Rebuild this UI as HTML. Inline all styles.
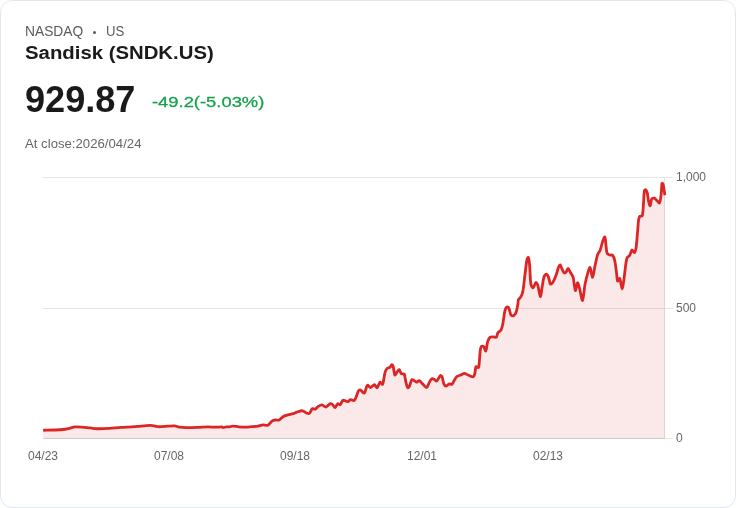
<!DOCTYPE html>
<html><head><meta charset="utf-8"><title>Sandisk (SNDK.US)</title>
<style>
html,body{margin:0;padding:0;background:#fff;}
body{width:736px;height:508px;overflow:hidden;font-family:"Liberation Sans",sans-serif;}
.card{position:absolute;left:0;top:0;width:734px;height:506px;border:1px solid #e2e8f0;border-radius:12px;background:#fff;}
.t{position:absolute;white-space:nowrap;line-height:1;}
.ex{left:25px;top:24px;font-size:14.4px;color:#5a5a5a;transform-origin:0 0;transform:scaleX(0.958);}
.us{left:105.5px;top:24px;font-size:14.4px;color:#5a5a5a;transform-origin:0 0;transform:scaleX(0.915);}
.dot{left:93.1px;top:30.8px;width:3.2px;height:3.2px;border-radius:50%;background:#5a5a5a;}
.name{left:25px;top:44px;font-size:18px;font-weight:bold;color:#1a1a1a;transform-origin:0 0;transform:scaleX(1.13);}
.price{left:25px;top:82.3px;font-size:36px;font-weight:bold;color:#1a1a1a;transform-origin:0 0;transform:scaleX(1.003);}
.chg{left:151.6px;top:93.5px;font-size:15.5px;color:#16a34a;-webkit-text-stroke:0.3px #16a34a;transform-origin:0 0;transform:scaleX(1.185);}
.close{left:25px;top:138px;font-size:12px;color:#666;transform-origin:0 0;transform:scaleX(1.098);}
svg{position:absolute;left:0;top:0;}
svg text{font-family:"Liberation Sans",sans-serif;font-size:12px;fill:#666;}
</style></head>
<body>
<div id="w" style="position:absolute;left:0;top:0;width:736px;height:508px;will-change:transform;">
<div class="card"></div>
<div class="t ex">NASDAQ</div><div class="t dot"></div><div class="t us">US</div>
<div class="t name">Sandisk (SNDK.US)</div>
<div class="t price">929.87</div>
<div class="t chg">-49.2(-5.03%)</div>
<div class="t close">At close:2026/04/24</div>
<svg width="736" height="508" viewBox="0 0 736 508">
<defs><clipPath id="c"><rect x="41.75" y="170" width="624.5" height="270"/></clipPath></defs>
<g stroke="#e5e5e5" stroke-width="1" shape-rendering="crispEdges">
<line x1="43" y1="177.5" x2="672.5" y2="177.5"/>
<line x1="43" y1="308.5" x2="672.5" y2="308.5"/>
<line x1="664.5" y1="177" x2="664.5" y2="439"/>
<line x1="665" y1="438.5" x2="672.5" y2="438.5"/>
</g>
<g clip-path="url(#c)">
<path d="M43.15,430.25C46.74,430.17 51.53,430.15 55.12,429.99C58.15,429.85 62.19,429.59 65.20,429.24C66.73,429.06 68.75,428.59 70.25,428.23C71.59,427.91 73.31,427.10 74.66,426.97C76.71,426.77 79.52,426.97 81.59,427.10C84.24,427.27 87.77,427.69 90.41,427.98C92.30,428.18 94.81,428.69 96.71,428.73C100.48,428.81 105.54,428.58 109.31,428.36C112.72,428.16 117.25,427.58 120.66,427.35C124.06,427.12 128.60,427.02 132.00,426.84C133.67,426.75 135.89,426.62 137.56,426.47C140.21,426.24 143.73,425.74 146.38,425.58C148.26,425.47 150.81,425.40 152.68,425.58C154.40,425.74 156.64,426.65 158.36,426.72C161.18,426.84 164.98,426.36 167.81,426.21C169.89,426.10 172.69,425.67 174.74,425.83C176.09,425.94 177.80,426.90 179.15,427.10C181.39,427.43 184.44,427.57 186.71,427.60C190.11,427.64 194.65,427.47 198.05,427.35C201.08,427.24 205.11,426.86 208.13,426.84C210.40,426.82 213.43,427.20 215.70,427.22C217.59,427.24 220.15,426.89 222.00,426.97C222.38,426.99 222.78,427.56 223.15,427.56C224.07,427.55 225.35,427.03 226.30,426.93C227.24,426.84 228.52,427.06 229.45,426.93C230.41,426.79 231.64,426.05 232.60,426.04C234.47,426.01 237.00,426.65 238.90,426.80C240.78,426.95 243.31,427.07 245.20,427.05C247.09,427.03 249.62,426.80 251.51,426.67C253.40,426.54 255.94,426.46 257.81,426.17C259.34,425.93 261.32,425.04 262.85,424.91C264.34,424.78 266.62,425.83 267.89,425.29C269.46,424.62 270.81,421.92 272.30,420.88C273.08,420.33 274.49,420.11 275.45,419.99C276.56,419.85 278.25,420.41 279.23,419.99C280.52,419.43 281.73,417.45 283.01,416.72C284.38,415.94 286.52,415.41 288.05,414.95C289.54,414.50 291.61,414.18 293.09,413.69C294.26,413.31 295.69,412.41 296.87,412.05C298.53,411.54 300.93,410.59 302.55,410.79C303.96,410.97 305.57,412.80 306.96,413.31C307.65,413.56 308.98,413.75 309.48,413.31C310.49,412.43 311.17,410.13 312.00,408.90C312.10,408.74 312.41,408.66 312.60,408.68C313.35,408.75 314.47,409.44 315.12,409.18C316.17,408.76 317.21,407.06 318.27,406.41C319.29,405.78 320.95,404.81 322.05,404.90C323.22,405.00 324.75,407.21 325.83,407.04C327.21,406.83 328.85,404.17 330.25,403.64C330.86,403.41 331.97,404.07 332.51,404.52C333.41,405.28 334.31,407.79 335.03,407.67C335.90,407.53 336.82,404.18 337.81,403.64C338.33,403.35 339.58,405.22 340.08,404.90C341.10,404.24 341.78,401.20 342.85,400.36C343.36,399.96 344.63,400.56 345.37,400.74C346.14,400.93 347.20,401.76 347.89,401.62C348.71,401.46 349.55,399.89 350.41,399.73C351.52,399.52 353.76,401.12 354.44,400.36C356.21,398.40 357.07,393.27 358.60,390.66C358.89,390.17 360.00,389.81 360.49,390.03C361.70,390.57 363.51,393.71 364.27,393.18C365.59,392.27 366.12,386.41 367.42,385.24C368.01,384.71 369.63,387.58 370.57,387.51C371.71,387.43 373.30,384.69 374.35,384.73C375.27,384.77 376.45,388.06 377.13,387.76C378.16,387.30 378.97,382.88 380.03,382.21C380.59,381.86 382.23,384.99 382.55,384.36C383.74,382.04 384.09,375.89 385.07,372.38C385.41,371.17 386.13,369.47 386.96,368.60C387.64,367.88 389.32,367.73 390.11,367.09C390.81,366.52 391.40,364.68 391.93,364.57C392.32,364.49 393.01,365.82 393.19,366.47C393.88,368.96 394.03,373.83 394.83,375.03C395.16,375.53 396.30,372.99 396.97,372.14C397.59,371.36 398.57,369.42 399.11,369.62C399.89,369.91 400.43,372.94 401.38,373.77C401.94,374.26 403.81,373.41 404.16,374.03C405.13,375.75 405.21,379.35 405.79,381.59C406.27,383.43 406.87,386.69 407.68,387.64C408.00,388.01 409.24,386.65 409.57,386.00C410.45,384.27 410.81,381.12 411.72,379.70C411.95,379.34 412.92,379.85 413.36,380.08C414.36,380.60 415.55,382.14 416.51,382.22C417.32,382.29 418.54,380.36 419.28,380.58C420.43,380.92 421.73,383.07 422.81,384.11C423.93,385.19 425.67,387.82 426.59,387.64C427.56,387.45 428.30,384.26 429.11,382.85C429.82,381.61 430.65,379.51 431.63,378.82C432.16,378.45 433.45,379.02 434.15,379.32C434.97,379.67 436.08,381.31 436.67,380.96C437.97,380.18 439.21,376.58 440.45,375.54C440.79,375.25 441.76,376.07 441.96,376.55C442.82,378.64 443.07,382.03 443.98,384.11C444.31,384.87 445.44,386.03 446.12,386.00C447.03,385.96 448.25,384.15 449.27,383.86C449.96,383.66 451.26,384.73 451.79,384.36C452.77,383.67 453.54,381.53 454.31,380.33C455.05,379.18 455.83,377.39 456.83,376.55C457.72,375.80 459.48,375.50 460.61,375.03C461.75,374.55 463.26,373.40 464.40,373.40C465.53,373.40 467.03,374.59 468.18,375.03C469.67,375.61 471.98,376.99 473.22,376.80C473.95,376.69 474.48,374.93 474.73,374.03C475.31,371.91 475.16,368.16 475.99,366.72C476.28,366.21 478.24,368.11 478.48,367.55C479.33,365.56 479.33,361.02 479.62,358.22C479.86,355.88 479.91,352.73 480.25,350.41C480.43,349.17 480.72,347.16 481.38,346.38C481.74,345.95 483.24,345.95 483.65,346.38C484.57,347.35 485.37,351.54 485.79,351.04C486.58,350.10 486.81,344.31 487.68,341.59C488.14,340.15 489.15,338.06 490.20,337.18C490.86,336.63 492.41,336.80 493.36,336.80C494.23,336.80 495.73,337.65 496.25,337.18C497.13,336.37 497.21,333.71 498.02,332.51C498.61,331.63 500.41,331.17 500.92,330.25C501.84,328.60 502.41,325.87 502.81,323.94C503.66,319.82 504.04,314.09 505.08,310.08C505.36,308.99 506.51,307.15 507.22,306.93C507.72,306.77 508.78,308.11 509.11,308.82C509.92,310.57 510.05,313.63 511.00,315.12C511.37,315.71 512.93,316.05 513.52,315.75C514.44,315.29 515.63,313.71 516.04,312.60C516.95,310.12 517.44,306.44 517.93,303.78C518.15,302.60 517.96,300.88 518.40,299.82C518.82,298.82 520.26,297.90 520.79,296.92C521.59,295.44 522.51,293.29 522.81,291.63C523.83,286.04 524.46,278.40 525.20,272.73C525.75,268.57 526.27,262.91 527.10,258.86C527.22,258.29 528.21,256.97 528.36,257.35C528.97,258.86 529.40,262.80 529.62,265.16C530.15,270.82 530.05,278.53 530.88,284.07C531.07,285.34 532.39,288.04 533.02,287.85C533.90,287.59 535.00,283.05 535.92,282.56C536.43,282.29 537.51,284.38 537.81,285.33C538.84,288.61 539.63,296.47 540.33,296.67C540.95,296.85 541.65,289.61 542.22,286.59C542.79,283.57 543.16,279.33 544.11,276.51C544.41,275.63 545.76,274.15 546.38,274.24C547.08,274.34 548.12,276.15 548.52,277.14C549.33,279.10 549.49,283.02 550.41,284.07C550.81,284.53 552.43,282.95 552.93,282.18C554.13,280.31 555.28,277.38 556.08,275.25C556.98,272.85 557.65,269.41 558.60,267.05C558.90,266.31 559.84,264.75 560.24,264.91C560.79,265.13 561.25,267.31 561.75,268.31C562.46,269.73 563.32,272.16 564.27,272.98C564.64,273.30 565.79,272.56 566.16,272.10C566.92,271.16 567.45,268.22 568.05,268.31C568.77,268.41 569.81,271.40 570.57,272.73C571.33,274.05 572.66,275.70 573.09,277.14C573.79,279.48 573.89,282.89 574.35,285.33C574.65,286.93 575.23,290.93 575.61,290.62C576.17,290.17 576.82,283.31 577.50,282.81C577.96,282.48 578.96,286.30 579.40,287.85C580.47,291.59 581.80,300.93 582.55,300.45C583.50,299.84 584.09,289.03 585.04,284.19C585.79,280.37 587.06,275.31 588.19,271.59C588.58,270.32 589.67,267.04 590.08,267.56C591.00,268.74 591.92,277.57 592.60,277.26C593.43,276.89 594.32,268.87 595.12,265.29C595.84,262.07 596.61,257.68 597.64,254.57C598.12,253.14 599.62,251.57 600.16,250.16C601.13,247.61 601.77,243.93 602.68,241.34C603.17,239.96 604.44,236.62 604.83,236.93C605.39,237.37 605.54,241.78 605.83,243.86C606.22,246.69 606.24,250.78 607.10,253.31C607.37,254.11 608.79,254.66 609.62,254.95C610.42,255.23 611.99,254.65 612.51,255.20C613.50,256.24 614.30,258.66 614.66,260.25C615.51,263.95 616.02,269.06 616.55,272.85C616.89,275.30 616.89,279.83 617.56,281.04C617.83,281.53 619.37,277.96 619.70,278.52C620.77,280.34 621.57,289.07 622.22,288.98C622.90,288.88 623.63,281.23 624.11,277.89C624.76,273.37 625.30,267.28 626.00,262.77C626.25,261.16 626.56,258.87 627.26,257.47C627.70,256.60 629.26,256.05 629.78,255.20C630.66,253.78 631.08,250.37 631.92,249.91C632.47,249.61 633.92,252.96 634.44,252.68C635.17,252.28 635.85,249.21 636.08,247.64C636.84,242.40 637.25,235.29 637.72,230.00C637.96,227.35 638.06,223.78 638.44,221.15C638.65,219.68 638.95,217.40 639.70,216.36C640.09,215.82 642.03,216.52 642.22,215.86C643.16,212.67 643.16,207.22 643.48,203.51C643.80,199.73 643.80,194.55 644.36,190.90C644.44,190.39 645.33,189.45 645.62,189.64C646.20,190.02 647.00,191.77 647.26,192.79C647.87,195.17 647.98,198.57 648.52,200.99C648.85,202.46 649.76,206.01 650.16,205.77C650.70,205.44 650.80,200.73 651.67,199.10C652.01,198.46 653.51,198.04 654.19,198.21C655.03,198.42 655.97,199.70 656.71,200.36C657.55,201.10 659.07,203.41 659.48,202.88C660.39,201.70 660.80,197.16 661.12,194.68C661.56,191.30 661.49,186.25 662.00,183.34C662.05,183.04 662.91,183.65 663.01,183.97C663.51,185.54 663.74,187.94 664.02,189.64C664.30,191.34 664.64,193.61 664.90,195.31L664.90,438.5L43.15,438.5Z" fill="rgba(220,38,38,0.1)" stroke="none"/>
<path d="M43.15,430.25C46.74,430.17 51.53,430.15 55.12,429.99C58.15,429.85 62.19,429.59 65.20,429.24C66.73,429.06 68.75,428.59 70.25,428.23C71.59,427.91 73.31,427.10 74.66,426.97C76.71,426.77 79.52,426.97 81.59,427.10C84.24,427.27 87.77,427.69 90.41,427.98C92.30,428.18 94.81,428.69 96.71,428.73C100.48,428.81 105.54,428.58 109.31,428.36C112.72,428.16 117.25,427.58 120.66,427.35C124.06,427.12 128.60,427.02 132.00,426.84C133.67,426.75 135.89,426.62 137.56,426.47C140.21,426.24 143.73,425.74 146.38,425.58C148.26,425.47 150.81,425.40 152.68,425.58C154.40,425.74 156.64,426.65 158.36,426.72C161.18,426.84 164.98,426.36 167.81,426.21C169.89,426.10 172.69,425.67 174.74,425.83C176.09,425.94 177.80,426.90 179.15,427.10C181.39,427.43 184.44,427.57 186.71,427.60C190.11,427.64 194.65,427.47 198.05,427.35C201.08,427.24 205.11,426.86 208.13,426.84C210.40,426.82 213.43,427.20 215.70,427.22C217.59,427.24 220.15,426.89 222.00,426.97C222.38,426.99 222.78,427.56 223.15,427.56C224.07,427.55 225.35,427.03 226.30,426.93C227.24,426.84 228.52,427.06 229.45,426.93C230.41,426.79 231.64,426.05 232.60,426.04C234.47,426.01 237.00,426.65 238.90,426.80C240.78,426.95 243.31,427.07 245.20,427.05C247.09,427.03 249.62,426.80 251.51,426.67C253.40,426.54 255.94,426.46 257.81,426.17C259.34,425.93 261.32,425.04 262.85,424.91C264.34,424.78 266.62,425.83 267.89,425.29C269.46,424.62 270.81,421.92 272.30,420.88C273.08,420.33 274.49,420.11 275.45,419.99C276.56,419.85 278.25,420.41 279.23,419.99C280.52,419.43 281.73,417.45 283.01,416.72C284.38,415.94 286.52,415.41 288.05,414.95C289.54,414.50 291.61,414.18 293.09,413.69C294.26,413.31 295.69,412.41 296.87,412.05C298.53,411.54 300.93,410.59 302.55,410.79C303.96,410.97 305.57,412.80 306.96,413.31C307.65,413.56 308.98,413.75 309.48,413.31C310.49,412.43 311.17,410.13 312.00,408.90C312.10,408.74 312.41,408.66 312.60,408.68C313.35,408.75 314.47,409.44 315.12,409.18C316.17,408.76 317.21,407.06 318.27,406.41C319.29,405.78 320.95,404.81 322.05,404.90C323.22,405.00 324.75,407.21 325.83,407.04C327.21,406.83 328.85,404.17 330.25,403.64C330.86,403.41 331.97,404.07 332.51,404.52C333.41,405.28 334.31,407.79 335.03,407.67C335.90,407.53 336.82,404.18 337.81,403.64C338.33,403.35 339.58,405.22 340.08,404.90C341.10,404.24 341.78,401.20 342.85,400.36C343.36,399.96 344.63,400.56 345.37,400.74C346.14,400.93 347.20,401.76 347.89,401.62C348.71,401.46 349.55,399.89 350.41,399.73C351.52,399.52 353.76,401.12 354.44,400.36C356.21,398.40 357.07,393.27 358.60,390.66C358.89,390.17 360.00,389.81 360.49,390.03C361.70,390.57 363.51,393.71 364.27,393.18C365.59,392.27 366.12,386.41 367.42,385.24C368.01,384.71 369.63,387.58 370.57,387.51C371.71,387.43 373.30,384.69 374.35,384.73C375.27,384.77 376.45,388.06 377.13,387.76C378.16,387.30 378.97,382.88 380.03,382.21C380.59,381.86 382.23,384.99 382.55,384.36C383.74,382.04 384.09,375.89 385.07,372.38C385.41,371.17 386.13,369.47 386.96,368.60C387.64,367.88 389.32,367.73 390.11,367.09C390.81,366.52 391.40,364.68 391.93,364.57C392.32,364.49 393.01,365.82 393.19,366.47C393.88,368.96 394.03,373.83 394.83,375.03C395.16,375.53 396.30,372.99 396.97,372.14C397.59,371.36 398.57,369.42 399.11,369.62C399.89,369.91 400.43,372.94 401.38,373.77C401.94,374.26 403.81,373.41 404.16,374.03C405.13,375.75 405.21,379.35 405.79,381.59C406.27,383.43 406.87,386.69 407.68,387.64C408.00,388.01 409.24,386.65 409.57,386.00C410.45,384.27 410.81,381.12 411.72,379.70C411.95,379.34 412.92,379.85 413.36,380.08C414.36,380.60 415.55,382.14 416.51,382.22C417.32,382.29 418.54,380.36 419.28,380.58C420.43,380.92 421.73,383.07 422.81,384.11C423.93,385.19 425.67,387.82 426.59,387.64C427.56,387.45 428.30,384.26 429.11,382.85C429.82,381.61 430.65,379.51 431.63,378.82C432.16,378.45 433.45,379.02 434.15,379.32C434.97,379.67 436.08,381.31 436.67,380.96C437.97,380.18 439.21,376.58 440.45,375.54C440.79,375.25 441.76,376.07 441.96,376.55C442.82,378.64 443.07,382.03 443.98,384.11C444.31,384.87 445.44,386.03 446.12,386.00C447.03,385.96 448.25,384.15 449.27,383.86C449.96,383.66 451.26,384.73 451.79,384.36C452.77,383.67 453.54,381.53 454.31,380.33C455.05,379.18 455.83,377.39 456.83,376.55C457.72,375.80 459.48,375.50 460.61,375.03C461.75,374.55 463.26,373.40 464.40,373.40C465.53,373.40 467.03,374.59 468.18,375.03C469.67,375.61 471.98,376.99 473.22,376.80C473.95,376.69 474.48,374.93 474.73,374.03C475.31,371.91 475.16,368.16 475.99,366.72C476.28,366.21 478.24,368.11 478.48,367.55C479.33,365.56 479.33,361.02 479.62,358.22C479.86,355.88 479.91,352.73 480.25,350.41C480.43,349.17 480.72,347.16 481.38,346.38C481.74,345.95 483.24,345.95 483.65,346.38C484.57,347.35 485.37,351.54 485.79,351.04C486.58,350.10 486.81,344.31 487.68,341.59C488.14,340.15 489.15,338.06 490.20,337.18C490.86,336.63 492.41,336.80 493.36,336.80C494.23,336.80 495.73,337.65 496.25,337.18C497.13,336.37 497.21,333.71 498.02,332.51C498.61,331.63 500.41,331.17 500.92,330.25C501.84,328.60 502.41,325.87 502.81,323.94C503.66,319.82 504.04,314.09 505.08,310.08C505.36,308.99 506.51,307.15 507.22,306.93C507.72,306.77 508.78,308.11 509.11,308.82C509.92,310.57 510.05,313.63 511.00,315.12C511.37,315.71 512.93,316.05 513.52,315.75C514.44,315.29 515.63,313.71 516.04,312.60C516.95,310.12 517.44,306.44 517.93,303.78C518.15,302.60 517.96,300.88 518.40,299.82C518.82,298.82 520.26,297.90 520.79,296.92C521.59,295.44 522.51,293.29 522.81,291.63C523.83,286.04 524.46,278.40 525.20,272.73C525.75,268.57 526.27,262.91 527.10,258.86C527.22,258.29 528.21,256.97 528.36,257.35C528.97,258.86 529.40,262.80 529.62,265.16C530.15,270.82 530.05,278.53 530.88,284.07C531.07,285.34 532.39,288.04 533.02,287.85C533.90,287.59 535.00,283.05 535.92,282.56C536.43,282.29 537.51,284.38 537.81,285.33C538.84,288.61 539.63,296.47 540.33,296.67C540.95,296.85 541.65,289.61 542.22,286.59C542.79,283.57 543.16,279.33 544.11,276.51C544.41,275.63 545.76,274.15 546.38,274.24C547.08,274.34 548.12,276.15 548.52,277.14C549.33,279.10 549.49,283.02 550.41,284.07C550.81,284.53 552.43,282.95 552.93,282.18C554.13,280.31 555.28,277.38 556.08,275.25C556.98,272.85 557.65,269.41 558.60,267.05C558.90,266.31 559.84,264.75 560.24,264.91C560.79,265.13 561.25,267.31 561.75,268.31C562.46,269.73 563.32,272.16 564.27,272.98C564.64,273.30 565.79,272.56 566.16,272.10C566.92,271.16 567.45,268.22 568.05,268.31C568.77,268.41 569.81,271.40 570.57,272.73C571.33,274.05 572.66,275.70 573.09,277.14C573.79,279.48 573.89,282.89 574.35,285.33C574.65,286.93 575.23,290.93 575.61,290.62C576.17,290.17 576.82,283.31 577.50,282.81C577.96,282.48 578.96,286.30 579.40,287.85C580.47,291.59 581.80,300.93 582.55,300.45C583.50,299.84 584.09,289.03 585.04,284.19C585.79,280.37 587.06,275.31 588.19,271.59C588.58,270.32 589.67,267.04 590.08,267.56C591.00,268.74 591.92,277.57 592.60,277.26C593.43,276.89 594.32,268.87 595.12,265.29C595.84,262.07 596.61,257.68 597.64,254.57C598.12,253.14 599.62,251.57 600.16,250.16C601.13,247.61 601.77,243.93 602.68,241.34C603.17,239.96 604.44,236.62 604.83,236.93C605.39,237.37 605.54,241.78 605.83,243.86C606.22,246.69 606.24,250.78 607.10,253.31C607.37,254.11 608.79,254.66 609.62,254.95C610.42,255.23 611.99,254.65 612.51,255.20C613.50,256.24 614.30,258.66 614.66,260.25C615.51,263.95 616.02,269.06 616.55,272.85C616.89,275.30 616.89,279.83 617.56,281.04C617.83,281.53 619.37,277.96 619.70,278.52C620.77,280.34 621.57,289.07 622.22,288.98C622.90,288.88 623.63,281.23 624.11,277.89C624.76,273.37 625.30,267.28 626.00,262.77C626.25,261.16 626.56,258.87 627.26,257.47C627.70,256.60 629.26,256.05 629.78,255.20C630.66,253.78 631.08,250.37 631.92,249.91C632.47,249.61 633.92,252.96 634.44,252.68C635.17,252.28 635.85,249.21 636.08,247.64C636.84,242.40 637.25,235.29 637.72,230.00C637.96,227.35 638.06,223.78 638.44,221.15C638.65,219.68 638.95,217.40 639.70,216.36C640.09,215.82 642.03,216.52 642.22,215.86C643.16,212.67 643.16,207.22 643.48,203.51C643.80,199.73 643.80,194.55 644.36,190.90C644.44,190.39 645.33,189.45 645.62,189.64C646.20,190.02 647.00,191.77 647.26,192.79C647.87,195.17 647.98,198.57 648.52,200.99C648.85,202.46 649.76,206.01 650.16,205.77C650.70,205.44 650.80,200.73 651.67,199.10C652.01,198.46 653.51,198.04 654.19,198.21C655.03,198.42 655.97,199.70 656.71,200.36C657.55,201.10 659.07,203.41 659.48,202.88C660.39,201.70 660.80,197.16 661.12,194.68C661.56,191.30 661.49,186.25 662.00,183.34C662.05,183.04 662.91,183.65 663.01,183.97C663.51,185.54 663.74,187.94 664.02,189.64C664.30,191.34 664.64,193.61 664.90,195.31" fill="none" stroke="#dc2626" stroke-width="2.8" stroke-linejoin="round" stroke-linecap="butt"/>
</g>
<line x1="43" y1="438.5" x2="665" y2="438.5" stroke="#cdcdcd" stroke-width="1" shape-rendering="crispEdges"/>
<g>
<text x="676" y="181">1,000</text>
<text x="676" y="312">500</text>
<text x="676" y="442">0</text>
<text x="43" y="460" text-anchor="middle">04/23</text>
<text x="169" y="460" text-anchor="middle">07/08</text>
<text x="295" y="460" text-anchor="middle">09/18</text>
<text x="422" y="460" text-anchor="middle">12/01</text>
<text x="548" y="460" text-anchor="middle">02/13</text>
</g>
</svg>
</div>
</body></html>
